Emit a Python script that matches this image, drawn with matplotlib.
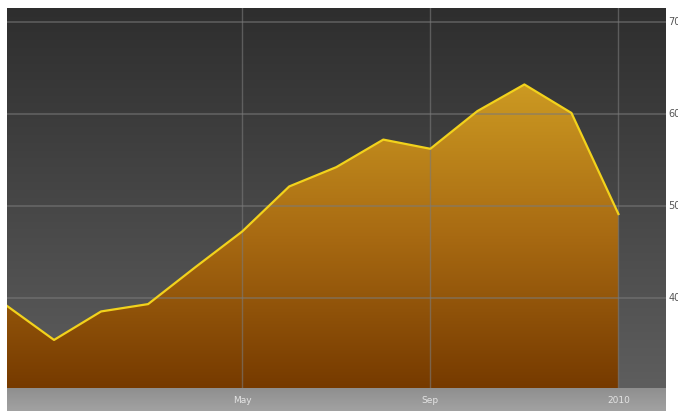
import numpy as np
import matplotlib.pyplot as plt
from matplotlib.colors import LinearSegmentedColormap

# monthly values, Dec 2008 .. Jan 2010
values = [39.1, 35.4, 38.5, 39.3, 43.3, 47.2, 52.1, 54.2, 57.2, 56.2, 60.3, 63.2, 60.1, 49.1]
month_ticks = [5, 9, 13]
month_labels = ['May', 'Sep', '2010']
y_ticks = [40, 50, 60, 70]

x = np.arange(len(values))
ymin, ymax = 30.17, 71.52

fig = plt.figure(figsize=(6.78, 4.11), dpi=100)
fig.patch.set_facecolor('white')
ax = fig.add_axes([7 / 678, 1 - 388 / 411, 658.5 / 678, 380 / 411])
ax.set_xlim(0, 14)
ax.set_ylim(ymin, ymax)

# dark gray background gradient
bg = LinearSegmentedColormap.from_list('bg', ['#5e5e5e', '#2e2e2e'])
grad = np.linspace(0, 1, 256).reshape(-1, 1)
ax.imshow(grad, extent=[0, 14, ymin, ymax], origin='lower', aspect='auto',
          cmap=bg, zorder=0)

# gold-to-brown fill under the line
fill_cmap = LinearSegmentedColormap.from_list('fill', ['#763a00', '#a86a12', '#cc9a22'])
poly = ax.fill_between(x, values, ymin, color='none', zorder=1)
img = ax.imshow(grad, extent=[0, 14, ymin, max(values)], origin='lower',
                aspect='auto', cmap=fill_cmap, zorder=1)
img.set_clip_path(poly.get_paths()[0], transform=ax.transData)
ax.set_ylim(ymin, ymax)

ax.plot(x, values, color='#f2d21c', lw=1.6, zorder=3, solid_joinstyle='round')

for t in y_ticks:
    ax.axhline(t, color='#7a7a7a', lw=1.2, zorder=2, alpha=0.6)
for t in month_ticks:
    ax.axvline(t, color='#7a7a7a', lw=1, zorder=2, alpha=0.6)

ax.set_xticks([])
ax.set_yticks([])
for s in ax.spines.values():
    s.set_visible(False)

# right side labels (cut off by the image edge, as in the source)
for t in y_ticks:
    ax.text(14.06, t, str(t), color='#555555', fontsize=7, va='center',
            ha='left', clip_on=False, family='DejaVu Sans Condensed')

# bottom gray band with month labels
band = fig.add_axes([7 / 678, 0, 658.5 / 678, 23 / 411])
band_cmap = LinearSegmentedColormap.from_list('band', ['#a2a2a2', '#8e8e8e'])
band.imshow(grad, extent=[0, 14, 0, 1], origin='lower', aspect='auto', cmap=band_cmap)
band.set_xlim(0, 14)
band.set_ylim(0, 1)
band.axis('off')
for t, lab in zip(month_ticks, month_labels):
    band.text(t, 0.45, lab, color='#e4e4e4', fontsize=6.5, ha='center', va='center',
              family='DejaVu Sans Condensed')

fig.savefig('out.png', dpi=100)
